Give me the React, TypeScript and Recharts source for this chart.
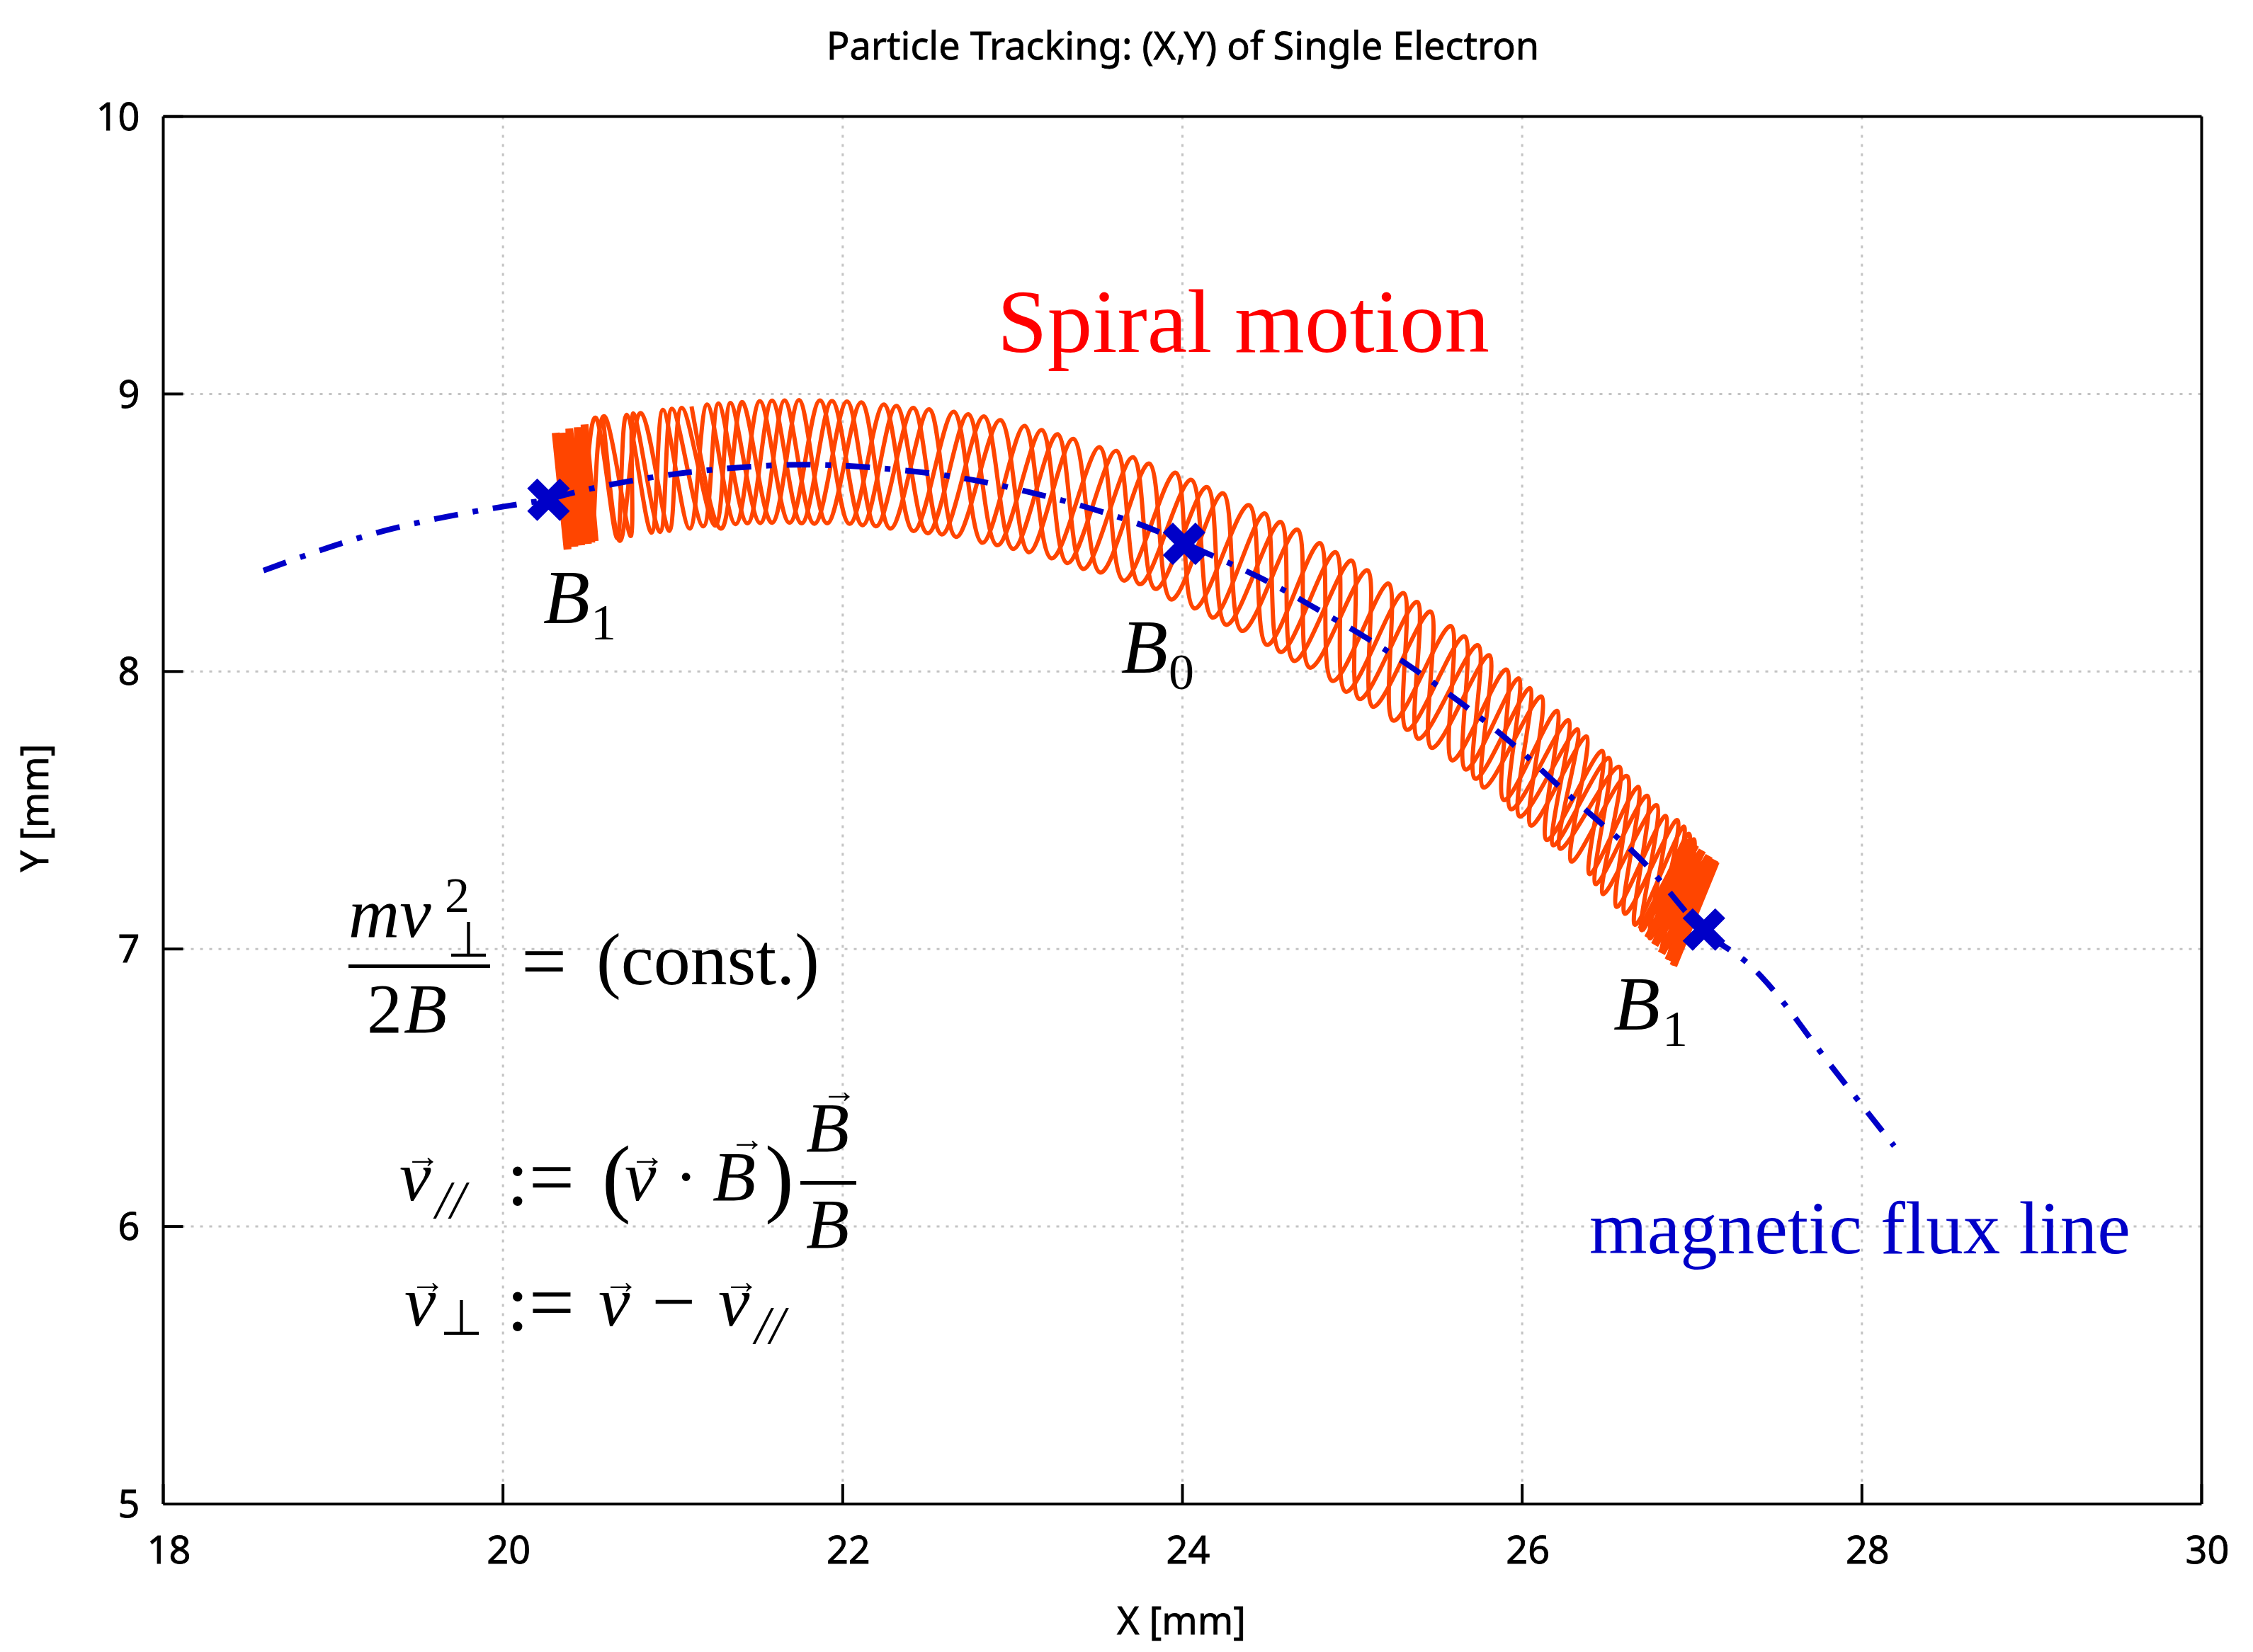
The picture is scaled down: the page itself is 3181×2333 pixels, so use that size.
import { ComposedChart, Line, Scatter, XAxis, YAxis, CartesianGrid } from 'recharts';

const xTicks = [18, 20, 22, 24, 26, 28, 30];
const yTicks = [5, 6, 7, 8, 9, 10];

// flux line, read along the dashes
const fluxX = [18.59, 19.32, 20.01, 20.26, 20.489, 20.861, 21.233, 21.605, 21.951, 22.323, 22.695, 23.04, 23.413, 23.758, 24.02, 24.427, 24.746, 25.078, 25.384, 25.676, 25.968, 26.234, 26.513, 26.779, 27.06, 27.31, 27.56, 27.78, 28.19];
const fluxY = [8.364, 8.51, 8.595, 8.62, 8.655, 8.698, 8.727, 8.743, 8.743, 8.727, 8.698, 8.655, 8.596, 8.528, 8.46, 8.347, 8.241, 8.123, 8.0, 7.87, 7.726, 7.577, 7.427, 7.27, 7.07, 6.958, 6.79, 6.61, 6.29];

const markerX = [20.268, 24.01, 27.07];
const markerY = [8.619, 8.46, 7.07];

// solid ends of the orbit, where the passes pile up at the mirror points
const denseLeftX = [20.31, 20.38, 20.35, 20.42, 20.39, 20.46, 20.44, 20.5, 20.48, 20.54];
const denseLeftY = [8.86, 8.44, 8.86, 8.45, 8.875, 8.455, 8.88, 8.46, 8.89, 8.47];
const denseRightX = [26.98, 26.7, 27.02, 26.74, 27.06, 26.78, 27.1, 26.82, 27.135, 26.86, 27.14, 26.89];
const denseRightY = [7.395, 7.07, 7.375, 7.04, 7.355, 7.015, 7.335, 6.985, 7.32, 6.96, 7.315, 6.94];

// the orbit shows as four interleaved waves; crests and troughs
const wave0X = [20.47, 20.555, 20.675, 20.728, 20.875, 20.941, 21.1, 21.201, 21.37, 21.512, 21.687, 21.866, 22.04, 22.243, 22.417, 22.655, 22.82, 23.072, 23.227, 23.514, 23.652, 23.962, 24.068, 24.395, 24.493, 24.812, 24.879, 25.216, 25.237, 25.583, 25.583, 25.91, 25.889, 26.208, 26.141, 26.473, 26.394, 26.686, 26.6, 26.9, 26.78];
const wave0Y = [8.46, 8.905, 8.481, 8.925, 8.5, 8.943, 8.515, 8.962, 8.531, 8.974, 8.536, 8.977, 8.532, 8.962, 8.506, 8.936, 8.464, 8.885, 8.408, 8.808, 8.328, 8.716, 8.228, 8.599, 8.097, 8.462, 7.967, 8.316, 7.824, 8.163, 7.681, 8.006, 7.538, 7.857, 7.394, 7.713, 7.271, 7.583, 7.13, 7.46, 7.02];

const wave1X = [20.53, 20.608, 20.754, 20.768, 20.925, 20.994, 21.18, 21.268, 21.44, 21.584, 21.758, 21.937, 22.116, 22.317, 22.5, 22.74, 22.908, 23.173, 23.32, 23.612, 23.745, 24.055, 24.174, 24.488, 24.573, 24.905, 24.958, 25.304, 25.317, 25.663, 25.663, 25.982, 25.93, 26.274, 26.18, 26.513, 26.43, 26.739, 26.66, 26.94, 26.82];
const wave1Y = [8.465, 8.91, 8.489, 8.93, 8.503, 8.947, 8.523, 8.966, 8.534, 8.976, 8.534, 8.975, 8.527, 8.957, 8.498, 8.927, 8.455, 8.87, 8.391, 8.795, 8.315, 8.69, 8.195, 8.569, 8.071, 8.429, 7.928, 8.282, 7.791, 8.126, 7.648, 7.974, 7.505, 7.824, 7.375, 7.687, 7.235, 7.551, 7.09, 7.435, 7.0];

const wave2X = [20.59, 20.7, 20.813, 20.98, 21.052, 21.25, 21.339, 21.515, 21.658, 21.833, 22.025, 22.195, 22.416, 22.583, 22.833, 23.001, 23.266, 23.413, 23.71, 23.838, 24.148, 24.254, 24.581, 24.653, 24.998, 25.038, 25.384, 25.384, 25.742, 25.72, 26.048, 25.982, 26.327, 26.221, 26.575, 26.473, 26.793, 26.7, 26.97, 26.86];
const wave2Y = [8.91, 8.483, 8.931, 8.507, 8.95, 8.526, 8.968, 8.535, 8.977, 8.532, 8.973, 8.523, 8.95, 8.494, 8.919, 8.442, 8.855, 8.37, 8.772, 8.298, 8.664, 8.169, 8.538, 8.039, 8.399, 7.902, 8.25, 7.759, 8.094, 7.615, 7.939, 7.479, 7.791, 7.362, 7.655, 7.199, 7.518, 7.07, 7.41, 6.96];

const wave3X = [21.11, 21.3, 21.411, 21.585, 21.743, 21.908, 22.11, 22.28, 22.509, 22.667, 22.929, 23.094, 23.359, 23.514, 23.806, 23.931, 24.241, 24.347, 24.679, 24.746, 25.091, 25.118, 25.463, 25.463, 25.809, 25.769, 26.115, 26.048, 26.38, 26.287, 26.62, 26.553, 26.846, 26.75, 27.0, 26.89];
const wave3Y = [8.955, 8.527, 8.97, 8.536, 8.978, 8.534, 8.97, 8.515, 8.945, 8.485, 8.906, 8.43, 8.838, 8.357, 8.749, 8.26, 8.642, 8.147, 8.511, 8.015, 8.364, 7.874, 8.215, 7.726, 8.058, 7.583, 7.909, 7.446, 7.765, 7.316, 7.622, 7.153, 7.479, 7.04, 7.39, 6.94];

const zip = (xs: number[], ys: number[]) => xs.map((x, i) => ({ x, y: ys[i] }));

const BLUE = '#0000c8';
const ORANGE = '#ff4500';
const SANS = '"Noto Sans", sans-serif';
const SERIF = '"Liberation Serif", serif';

const Cross = ({ cx, cy }: { cx?: number; cy?: number }) => (
  <path
    d={`M${cx! - 23},${cy! - 23}L${cx! + 23},${cy! + 23}M${cx! - 23},${cy! + 23}L${cx! + 23},${cy! - 23}`}
    stroke={BLUE}
    strokeWidth={20}
    fill="none"
  />
);

const T = ({ x, y, size = 100, italic = false, children, anchor = 'start', fill = '#000', family = SERIF, heavy = false }: any) => (
  <text
    x={x}
    y={y}
    fontSize={size}
    fontStyle={italic ? 'italic' : 'normal'}
    textAnchor={anchor}
    fill={fill}
    fontFamily={family}
    stroke={heavy ? fill : 'none'}
    strokeWidth={heavy ? 0.8 : 0}
  >
    {children}
  </text>
);

// a piece of a formula: one <text> per formula, each glyph group placed absolutely
const S = ({ x, y, size = 100, italic = false, children }: any) => (
  <tspan x={x} y={y} fontSize={size} fontStyle={italic ? 'italic' : 'normal'}>
    {children}
  </tspan>
);

const orbit = [zip(wave0X, wave0Y), zip(wave1X, wave1Y), zip(wave2X, wave2Y), zip(wave3X, wave3Y)];

export default function App() {
  return (
    <div style={{ position: 'absolute', left: 0, top: 0, width: 3181, height: 2333, background: '#fff' }}>
      <ComposedChart width={3181} height={2333} margin={{ top: 0, right: 0, bottom: 0, left: 0 }} style={{ display: 'block' }}>
        <XAxis
          xAxisId="bottom"
          type="number"
          dataKey="x"
          orientation="bottom"
          domain={[18, 30]}
          ticks={xTicks}
          height={209}
          interval={0}
          tickSize={-28}
          tickMargin={74}
          stroke="#000"
          strokeWidth={4}
          tick={{ fontSize: 54, fontFamily: SANS, fill: '#000', dx: 8, stroke: '#000', strokeWidth: 0.8 }}
        />
        <XAxis
          xAxisId="top"
          type="number"
          orientation="top"
          domain={[18, 30]}
          ticks={xTicks}
          height={164.5}
          interval={0}
          tickSize={-28}
          stroke="#000"
          strokeWidth={4}
          tick={false}
        />
        <YAxis
          yAxisId="left"
          type="number"
          dataKey="y"
          orientation="left"
          domain={[5, 10]}
          ticks={yTicks}
          width={230.5}
          interval={0}
          tickSize={-28}
          tickMargin={61}
          stroke="#000"
          strokeWidth={4}
          tick={{ fontSize: 54, fontFamily: SANS, fill: '#000', stroke: '#000', strokeWidth: 0.8 }}
        />
        <YAxis
          yAxisId="right"
          type="number"
          orientation="right"
          domain={[5, 10]}
          ticks={yTicks}
          width={72.5}
          interval={0}
          tickSize={-28}
          stroke="#000"
          strokeWidth={4}
          tick={false}
        />
        <CartesianGrid xAxisId="bottom" yAxisId="left" stroke="#c4c4c4" strokeWidth={3} strokeDasharray="4 9" syncWithTicks />
        {orbit.map((pts, i) => (
          <Line
            key={i}
            xAxisId="bottom"
            yAxisId="left"
            data={pts}
            dataKey="y"
            type="natural"
            stroke={ORANGE}
            strokeWidth={6}
            dot={false}
            isAnimationActive={false}
          />
        ))}
        <Line
          xAxisId="bottom"
          yAxisId="left"
          data={zip(denseLeftX, denseLeftY)}
          dataKey="y"
          type="linear"
          stroke={ORANGE}
          strokeWidth={11}
          dot={false}
          isAnimationActive={false}
        />
        <Line
          xAxisId="bottom"
          yAxisId="left"
          data={zip(denseRightX, denseRightY)}
          dataKey="y"
          type="linear"
          stroke={ORANGE}
          strokeWidth={11}
          dot={false}
          isAnimationActive={false}
        />
        <Line
          xAxisId="bottom"
          yAxisId="left"
          data={zip(fluxX, fluxY)}
          dataKey="y"
          type="natural"
          stroke={BLUE}
          strokeWidth={8}
          strokeDasharray="34 21 8 21"
          dot={false}
          isAnimationActive={false}
        />
        <Scatter
          xAxisId="bottom"
          yAxisId="left"
          data={zip(markerX, markerY)}
          shape={<Cross />}
          isAnimationActive={false}
        />

        <T x={1670} y={84} size={54} anchor="middle" family={SANS} heavy>Particle Tracking: (X,Y) of Single Electron</T>
        <T x={1668} y={2308} size={54} anchor="middle" family={SANS} heavy>X [mm]</T>
        <text transform="translate(68 1141) rotate(-90)" fontSize={54} textAnchor="middle" fontFamily={SANS} fill="#000" stroke="#000" strokeWidth={0.8}>Y [mm]</text>

        <T x={1408} y={497} size={127} fill="#ff0000">Spiral motion</T>
        <T x={2244} y={1770} size={105} fill={BLUE}>magnetic flux line</T>

        <text fontFamily={SERIF} fill="#000"><S x={767} y={880} size={108} italic>B</S><S x={834} y={903} size={72}>1</S></text>
        <text fontFamily={SERIF} fill="#000"><S x={1583} y={950} size={108} italic>B</S><S x={1650} y={973} size={72}>0</S></text>
        <text fontFamily={SERIF} fill="#000"><S x={2278} y={1454} size={108} italic>B</S><S x={2347} y={1477} size={72}>1</S></text>

        {/* m v_perp^2 / 2B = (const.) */}
        <rect x={492} y={1362} width={200} height={5} fill="#000" />
        <text fontFamily={SERIF} fill="#000">
          <S x={492} y={1323} italic>mv</S>
          <S x={628} y={1288} size={70}>2</S>
          <S x={631} y={1351} size={70}>⊥</S>
          <S x={518} y={1458}>2</S>
          <S x={570} y={1458} italic>B</S>
          <S x={736} y={1396} size={114}>=</S>
          <S x={842} y={1390} size={104}>(const.)</S>
        </text>

        {/* v_par */}
        <rect x={1130} y={1668} width={79} height={5} fill="#000" />
        <text fontFamily={SERIF} fill="#000">
          <S x={564} y={1695} italic>v</S>
          <S x={572} y={1649} size={50}>→</S>
          <S x={615} y={1720} size={76} italic>//</S>
          <S x={715} y={1701} size={114}>:=</S>
          <S x={850} y={1703} size={122}>(</S>
          <S x={882} y={1695} italic>v</S>
          <S x={889} y={1649} size={50}>→</S>
          <S x={952} y={1695}>·</S>
          <S x={1006} y={1695} italic>B</S>
          <S x={1030} y={1625} size={50}>→</S>
          <S x={1080} y={1703} size={122}>)</S>
          <S x={1138} y={1626} italic>B</S>
          <S x={1160} y={1557} size={50}>→</S>
          <S x={1138} y={1762} italic>B</S>
        </text>

        {/* v_perp */}
        <text fontFamily={SERIF} fill="#000">
          <S x={571} y={1872} italic>v</S>
          <S x={579} y={1826} size={50}>→</S>
          <S x={621} y={1885} size={70}>⊥</S>
          <S x={715} y={1878} size={114}>:=</S>
          <S x={845} y={1872} italic>v</S>
          <S x={852} y={1826} size={50}>→</S>
          <S x={920} y={1875} size={110}>−</S>
          <S x={1014} y={1872} italic>v</S>
          <S x={1022} y={1826} size={50}>→</S>
          <S x={1066} y={1897} size={76} italic>//</S>
        </text>
      </ComposedChart>
    </div>
  );
}
